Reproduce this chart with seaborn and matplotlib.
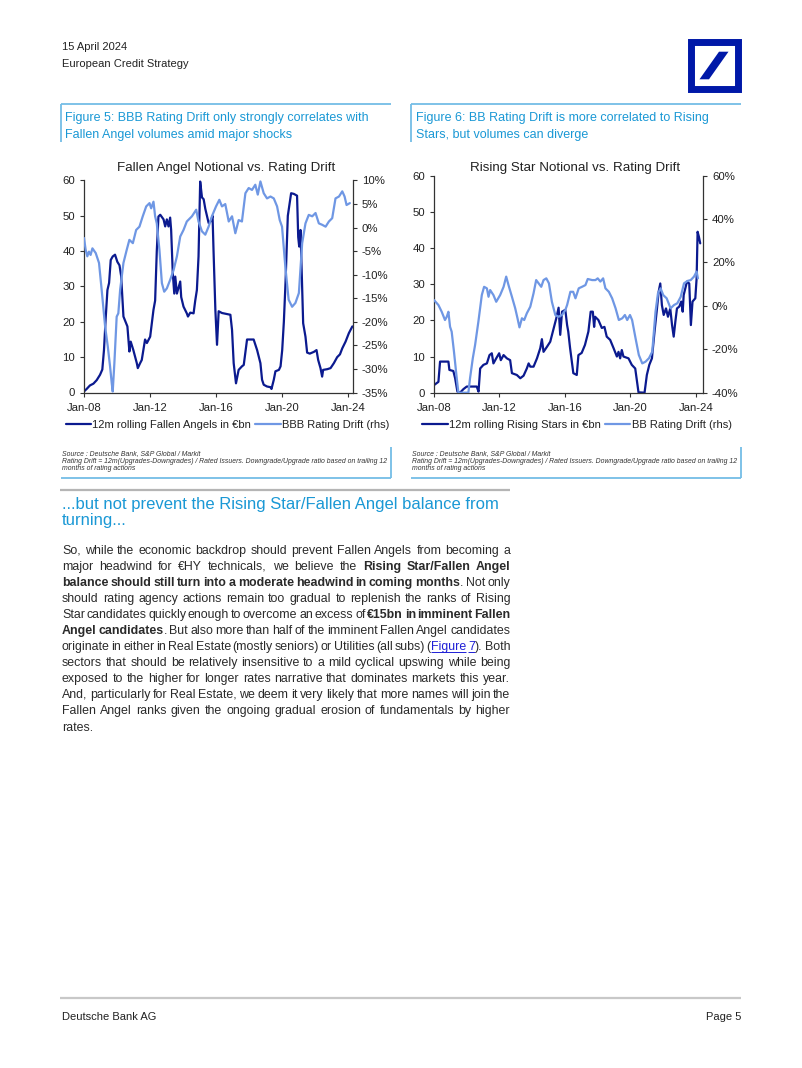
import math
import matplotlib
matplotlib.use("Agg")
import matplotlib.pyplot as plt
import seaborn as sns
from matplotlib.lines import Line2D
from matplotlib.patches import Rectangle, Polygon
from matplotlib.ticker import FuncFormatter, MultipleLocator
from matplotlib.font_manager import FontProperties, findfont, get_font
from matplotlib.backends.backend_agg import get_hinting_flag

# ---------------- data ----------------
xtick_years = [2008, 2012, 2016, 2020, 2024]
xtick_labels = ["Jan-08", "Jan-12", "Jan-16", "Jan-20", "Jan-24"]

fa_year = [2008.0, 2008.16, 2008.36, 2008.57, 2008.77, 2008.97, 2009.11, 2009.21, 2009.32, 2009.42,
           2009.52, 2009.62, 2009.74, 2009.88, 2010.02, 2010.15, 2010.25, 2010.39, 2010.63, 2010.75,
           2010.83, 2010.99, 2011.2, 2011.26, 2011.4, 2011.5, 2011.7, 2011.81, 2012.01, 2012.21,
           2012.31, 2012.41, 2012.51, 2012.62, 2012.82, 2012.92, 2013.02, 2013.12, 2013.22, 2013.28,
           2013.38, 2013.47, 2013.53, 2013.63, 2013.83, 2013.89, 2014.03, 2014.23, 2014.30, 2014.44,
           2014.64, 2014.74, 2014.84, 2014.94, 2015.04, 2015.15, 2015.25, 2015.35, 2015.45, 2015.55,
           2015.69, 2015.79, 2015.85, 2015.96, 2016.06, 2016.16, 2016.36, 2016.87, 2016.97, 2017.07,
           2017.21, 2017.37, 2017.57, 2017.68, 2017.88, 2018.08, 2018.28, 2018.49, 2018.69, 2018.79,
           2018.89, 2019.09, 2019.30, 2019.36, 2019.50, 2019.60, 2019.81, 2019.91, 2020.01, 2020.11,
           2020.21, 2020.35, 2020.55, 2020.72, 2020.91, 2020.98, 2021.04, 2021.12, 2021.28, 2021.42,
           2021.52, 2021.68, 2021.93, 2022.09, 2022.19, 2022.33, 2022.43, 2022.49, 2022.74, 2022.94,
           2023.14, 2023.34, 2023.51, 2023.65, 2023.85, 2024.05, 2024.26]
fa_bn = [0.3, 1.0, 2.0, 2.5, 3.5, 5.0, 6.5, 12.0, 21.5, 29.0,
         31.0, 37.5, 38.5, 39.0, 37.0, 36.0, 33.0, 21.5, 18.7, 11.6,
         14.4, 12.0, 8.3, 6.9, 8.3, 9.2, 15.0, 14.0, 15.8, 23.4,
         26.0, 40.0, 49.8, 50.3, 49.0, 47.0, 49.0, 47.0, 49.5, 46.0,
         33.7, 28.0, 32.8, 28.0, 31.4, 27.0, 24.3, 22.4, 21.5, 22.6,
         22.4, 26.0, 29.0, 38.5, 59.7, 55.2, 54.7, 52.0, 50.0, 48.0,
         48.5, 50.0, 40.0, 23.4, 13.5, 23.0, 22.5, 22.0, 17.7, 8.3,
         2.6, 6.4, 7.4, 7.8, 15.0, 15.0, 15.0, 12.0, 8.3, 3.6,
         2.2, 1.7, 1.5, 1.0, 3.6, 6.0, 6.4, 7.4, 12.0, 20.0,
         31.0, 50.0, 56.4, 56.2, 55.7, 44.0, 41.3, 46.0, 19.6, 15.8,
         11.3, 11.0, 11.5, 12.0, 9.2, 6.9, 4.5, 6.4, 6.6, 6.9,
         8.3, 10.0, 10.8, 12.5, 14.4, 16.8, 18.7]

bbb_year = [2008.0, 2008.10, 2008.20, 2008.30, 2008.40, 2008.51, 2008.71, 2008.91, 2009.07, 2009.28,
            2009.44, 2009.58, 2009.68, 2009.74, 2009.84, 2009.98, 2010.08, 2010.19, 2010.39, 2010.59,
            2010.75, 2010.96, 2011.16, 2011.36, 2011.56, 2011.77, 2011.97, 2012.07, 2012.21, 2012.31,
            2012.41, 2012.57, 2012.72, 2012.86, 2013.02, 2013.22, 2013.43, 2013.63, 2013.83, 2014.03,
            2014.23, 2014.54, 2014.80, 2014.94, 2015.15, 2015.35, 2015.55, 2015.75, 2016.0, 2016.20,
            2016.36, 2016.56, 2016.77, 2016.97, 2017.17, 2017.37, 2017.57, 2017.78, 2017.98, 2018.18,
            2018.38, 2018.53, 2018.69, 2018.89, 2019.09, 2019.30, 2019.50, 2019.70, 2019.86, 2020.0,
            2020.20, 2020.40, 2020.61, 2020.81, 2021.02, 2021.22, 2021.42, 2021.62, 2021.83, 2022.03,
            2022.23, 2022.43, 2022.64, 2022.84, 2023.04, 2023.24, 2023.45, 2023.65, 2023.79, 2023.91,
            2024.11]
bbb_drift = [-2.2, -4.7, -6.1, -5.1, -5.8, -4.4, -5.4, -7.5, -13.2, -21.0,
             -25.2, -29.5, -33.0, -34.8, -28.8, -18.9, -18.2, -13.2, -7.5, -4.7,
             -2.6, -3.3, -0.5, 0.2, 2.4, 4.5, 5.2, 4.1, 5.5, 2.4,
             0.9, -4.7, -11.8, -13.6, -12.9, -11.1, -9.0, -6.1, -1.9, -0.5,
             1.3, 2.4, 3.8, 1.3, -0.8, -1.5, 0.2, 2.4, 4.5, 5.9,
             4.5, 5.0, 1.3, 2.4, -1.2, 1.6, 1.3, 7.3, 8.4, 8.0,
             9.1, 7.0, 9.8, 7.3, 6.2, 6.6, 6.2, 4.5, 1.6, 0.2,
             -8.3, -15.3, -16.8, -16.0, -13.9, -3.3, 0.9, 2.7, 2.4, 3.1,
             0.9, 0.6, 0.2, 1.3, 2.0, 6.2, 6.6, 7.7, 6.6, 4.8,
             5.2]

rs_year = [2008.0, 2008.27, 2008.37, 2008.88, 2008.94, 2009.18, 2009.29, 2009.43, 2009.59, 2009.80,
           2010.0, 2010.61, 2010.72, 2010.82, 2011.02, 2011.23, 2011.39, 2011.53, 2011.63, 2011.80,
           2011.98, 2012.08, 2012.25, 2012.45, 2012.65, 2012.76, 2013.06, 2013.27, 2013.47, 2013.67,
           2013.78, 2013.88, 2014.08, 2014.29, 2014.49, 2014.59, 2014.69, 2014.90, 2015.10, 2015.31,
           2015.47, 2015.61, 2015.71, 2015.82, 2016.02, 2016.13, 2016.20, 2016.31, 2016.51, 2016.72,
           2016.82, 2017.02, 2017.22, 2017.43, 2017.57, 2017.70, 2017.78, 2017.84, 2018.04, 2018.25,
           2018.41, 2018.55, 2018.76, 2018.96, 2019.17, 2019.27, 2019.37, 2019.47, 2019.57, 2019.88,
           2020.08, 2020.29, 2020.43, 2020.49, 2020.86, 2021.0, 2021.15, 2021.31, 2021.47, 2021.62,
           2021.72, 2021.82, 2021.92, 2022.03, 2022.17, 2022.29, 2022.43, 2022.54, 2022.64, 2022.74,
           2022.84, 2022.98, 2023.10, 2023.19, 2023.25, 2023.45, 2023.59, 2023.69, 2023.79, 2023.96,
           2024.04, 2024.10, 2024.18, 2024.26]
rs_bn = [2.1, 3.0, 8.6, 8.6, 6.3, 6.0, 4.0, 0.3, 0.0, 1.0,
         1.7, 1.7, 0.3, 6.7, 7.7, 8.1, 10.4, 10.9, 8.1, 9.5,
         10.9, 9.0, 10.4, 9.5, 9.0, 5.4, 4.9, 4.0, 4.7, 6.7,
         8.1, 7.2, 7.2, 9.5, 12.3, 14.8, 11.3, 12.7, 14.1, 17.8,
         20.6, 23.5, 16.0, 22.4, 22.9, 18.7, 16.9, 12.4, 5.4, 4.9,
         10.4, 11.0, 13.2, 16.9, 22.4, 22.4, 18.2, 21.0, 20.1, 17.9,
         18.2, 15.5, 14.6, 12.4, 10.0, 11.3, 9.5, 11.8, 10.0, 9.5,
         7.7, 6.7, 2.1, 0.1, 0.0, 4.9, 7.7, 9.5, 16.9, 23.3,
         27.9, 30.2, 24.2, 21.5, 23.3, 21.0, 23.3, 18.7, 15.5, 19.6,
         23.3, 23.8, 25.2, 22.4, 27.0, 30.7, 30.2, 18.7, 25.2, 26.1,
         31.6, 44.5, 43.1, 41.3]

bb_year = [2008.0, 2008.27, 2008.47, 2008.67, 2008.78, 2008.88, 2008.98, 2009.08, 2009.22, 2009.39,
           2009.49, 2010.10, 2010.20, 2010.37, 2010.51, 2010.71, 2010.92, 2011.06, 2011.23, 2011.33,
           2011.43, 2011.63, 2011.80, 2012.04, 2012.25, 2012.41, 2012.55, 2012.76, 2012.96, 2013.10,
           2013.22, 2013.37, 2013.51, 2013.67, 2013.88, 2014.08, 2014.24, 2014.39, 2014.55, 2014.69,
           2014.86, 2015.02, 2015.20, 2015.41, 2015.61, 2015.82, 2016.02, 2016.13, 2016.33, 2016.50,
           2016.64, 2016.84, 2017.04, 2017.25, 2017.39, 2017.66, 2017.86, 2018.0, 2018.16, 2018.33,
           2018.47, 2018.68, 2018.88, 2019.09, 2019.29, 2019.50, 2019.66, 2019.80, 2019.97, 2020.10,
           2020.31, 2020.51, 2020.72, 2020.92, 2021.13, 2021.33, 2021.53, 2021.68, 2021.84, 2022.0,
           2022.21, 2022.45, 2022.66, 2022.86, 2023.07, 2023.27, 2023.48, 2023.68, 2023.88, 2024.04,
           2024.12]
bb_drift = [2.7, 0.4, -2.7, -6.5, -5.0, -2.7, -9.6, -11.9, -21.1, -33.4,
            -40.0, -40.0, -33.4, -24.1, -18.0, -7.3, 5.0, 8.8, 8.1, 4.2,
            7.3, 5.0, 1.9, 5.0, 8.8, 13.5, 9.6, 4.2, -1.1, -5.7,
            -9.9, -5.7, -6.5, -3.4, -0.4, 5.8, 11.9, 10.4, 8.8, 11.9,
            12.7, 10.4, 1.9, -4.2, -5.0, -4.2, -1.9, 0.4, 6.5, 6.5,
            3.5, 8.1, 8.8, 9.6, 12.4, 11.9, 11.9, 12.7, 11.2, 12.7,
            8.1, 6.5, 3.5, -1.1, -6.5, -5.7, -4.2, -6.5, -4.2, -6.5,
            -14.9, -22.6, -26.5, -25.7, -24.1, -21.1, -2.7, 5.8, 8.1, 5.0,
            3.5, -1.1, 0.4, 1.2, 4.2, 10.4, 11.5, 11.9, 13.5, 15.8,
            12.7]

# ---------------- styling ----------------
DARK = "#0b1a8f"
LIGHT = "#6f97e4"
CYAN = "#1a98d5"
BOXBLUE = "#74bde6"
TXT = "#222222"
BODY = "#2a2a2a"
LINK = "#1f1fd6"
DBBLUE = "#0018a8"
FAMILY = 'Liberation Sans'

sns.set_style("white")
plt.rcParams['font.family'] = [FAMILY, 'DejaVu Sans']

W, H = 802, 1068
DPI = 100
fig = plt.figure(figsize=(W / DPI, H / DPI), dpi=DPI)
page = fig.add_axes([0, 0, 1, 1])
page.set_xlim(0, W)
page.set_ylim(H, 0)
page.axis('off')


def hline(x0, x1, y, color, lw):
    page.plot([x0, x1], [y, y], color=color, lw=lw, solid_capstyle='butt')


def vline(x, y0, y1, color, lw):
    page.plot([x, x], [y0, y1], color=color, lw=lw, solid_capstyle='butt')


# header
page.text(62, 50, "15 April 2024", fontsize=8, color=TXT, va='baseline')
page.text(62, 67, "European Credit Strategy", fontsize=8, color=TXT, va='baseline')

# logo
page.add_patch(Rectangle((691.2, 41.8), 46.3, 47.0, fill=False, edgecolor=DBBLUE, lw=5.0))
page.add_patch(Polygon([(699.5, 79.3), (709.0, 79.3), (728.5, 51.7), (719.0, 51.7)],
                       closed=True, facecolor=DBBLUE, edgecolor='none'))

# figure captions and source boxes
for x0, x1, l1, l2 in [(60.5, 391, "Figure 5: BBB Rating Drift only strongly correlates with",
                        "Fallen Angel volumes amid major shocks"),
                       (411, 741, "Figure 6: BB Rating Drift is more correlated to Rising",
                        "Stars, but volumes can diverge")]:
    hline(x0, x1, 104.3, BOXBLUE, 1.3)
    vline(x0, 104.3, 142, BOXBLUE, 1.3)
    page.text(x0 + 4.5, 121, l1, fontsize=9, color=CYAN, va='baseline')
    page.text(x0 + 4.5, 138, l2, fontsize=9, color=CYAN, va='baseline')
    vline(x1, 447, 478, BOXBLUE, 1.3)
    hline(x0, x1, 478, BOXBLUE, 1.3)
    src = ["Source : Deutsche Bank, S&P Global / Markit",
           "Rating Drift = 12m(Upgrades-Downgrades) / Rated Issuers. Downgrade/Upgrade ratio based on trailing 12",
           "months of rating actions"]
    for i, s in enumerate(src):
        page.text(x0 + 1.5, 455.2 + i * 7.6, s, fontsize=4.95, style='italic', color="#333333", va='baseline')


def pct_fmt(v, pos):
    return f"{v:.0f}%".replace("\u2212", "-")


def chart(l, t, r, b, xmax, title, title_x, xs1, ys1, xs2, ys2, ylim2, step2, lab1, lab2, leg_cx):
    ax = fig.add_axes([l / W, 1 - b / H, (r - l) / W, (b - t) / H])
    sns.lineplot(x=xs1, y=ys1, ax=ax, color=DARK, linewidth=1.6, estimator=None, sort=False, legend=False)
    ax.set_xlim(2008, xmax)
    ax.set_ylim(0, 60)
    ax.yaxis.set_major_locator(MultipleLocator(10))
    ax.set_xticks(xtick_years)
    ax.set_xticklabels(xtick_labels)
    ax2 = ax.twinx()
    sns.lineplot(x=xs2, y=ys2, ax=ax2, color=LIGHT, linewidth=1.6, estimator=None, sort=False, legend=False)
    ax2.set_ylim(*ylim2)
    ax2.yaxis.set_major_locator(MultipleLocator(step2))
    ax2.yaxis.set_major_formatter(FuncFormatter(pct_fmt))
    for a in (ax, ax2):
        a.set_facecolor('none')
        for s in a.spines.values():
            s.set_visible(False)
        a.set_xlabel("")
        a.set_ylabel("")
    for s in ("left", "bottom"):
        ax.spines[s].set_visible(True)
        ax.spines[s].set_color("#333333")
        ax.spines[s].set_linewidth(0.9)
    ax2.spines["right"].set_visible(True)
    ax2.spines["right"].set_color("#333333")
    ax2.spines["right"].set_linewidth(0.9)
    ax.tick_params(axis='x', bottom=True, direction='out', length=3, width=0.8, color="#333333",
                   labelsize=8.2, labelcolor=TXT, pad=4.5)
    ax.tick_params(axis='y', left=True, direction='out', length=3, width=0.8, color="#333333",
                   labelsize=8.2, labelcolor=TXT, pad=3.4)
    ax2.tick_params(axis='y', right=True, left=False, direction='out', length=3, width=0.8, color="#333333",
                    labelsize=8.2, labelcolor=TXT, pad=3.4)
    page.text(title_x, 171, title, fontsize=9.6, color=TXT, ha='center', va='baseline')
    handles = [Line2D([], [], color=DARK, lw=1.6), Line2D([], [], color=LIGHT, lw=1.6)]
    ax.legend(handles, [lab1, lab2], loc='center', bbox_to_anchor=(leg_cx / W, 1 - 425 / H),
              bbox_transform=fig.transFigure, ncol=2, frameon=False, fontsize=8.0,
              handlelength=2.3, handletextpad=0.12, columnspacing=0.35, borderpad=0, borderaxespad=0,
              labelcolor=TXT)
    return ax, ax2


chart(84, 180.5, 353, 392.5, 2024.30, "Fallen Angel Notional vs. Rating Drift", 226,
      fa_year, fa_bn, bbb_year, bbb_drift, (-35, 10), 5,
      "12m rolling Fallen Angels in \u20acbn", "BBB Rating Drift (rhs)", 227.5)
chart(434, 175.7, 703, 392.7, 2024.43, "Rising Star Notional vs. Rating Drift", 575.5,
      rs_year, rs_bn, bb_year, bb_drift, (-40, 60), 20,
      "12m rolling Rising Stars in \u20acbn", "BB Rating Drift (rhs)", 577)

# section separator and heading
hline(60, 510, 490, "#b5b5b5", 1.6)
page.text(62, 509, "...but not prevent the Rising Star/Fallen Angel balance from", fontsize=12,
          color=CYAN, va='baseline')
page.text(62, 525, "turning...", fontsize=12, color=CYAN, va='baseline')

# justified body text
body_lines = [
    "So, while the economic backdrop should prevent Fallen Angels from becoming a",
    "major headwind for \u20acHY technicals, we believe the **Rising Star/Fallen Angel**",
    "**balance should still turn into a moderate headwind in coming months**. Not only",
    "should rating agency actions remain too gradual to replenish the ranks of Rising",
    "Star candidates quickly enough to overcome an excess of **\u20ac15bn in imminent Fallen**",
    "**Angel candidates**. But also more than half of the imminent Fallen Angel candidates",
    "originate in either in Real Estate (mostly seniors) or Utilities (all subs) ([[Figure 7]]). Both",
    "sectors that should be relatively insensitive to a mild cyclical upswing while being",
    "exposed to the higher for longer rates narrative that dominates markets this year.",
    "And, particularly for Real Estate, we deem it very likely that more names will join the",
    "Fallen Angel ranks given the ongoing gradual erosion of fundamentals by higher",
    "rates.",
]


def parse(line):
    chars = []
    bold = link = False
    i = 0
    while i < len(line):
        if line.startswith('**', i):
            bold = not bold
            i += 2
            continue
        if line.startswith('[[', i):
            link = True
            i += 2
            continue
        if line.startswith(']]', i):
            link = False
            i += 2
            continue
        chars.append((line[i], 'b' if bold else ('l' if link else 'n')))
        i += 1
    words, cur = [], []
    for ch, st in chars:
        if ch == ' ':
            if cur:
                words.append(cur)
                cur = []
        else:
            cur.append((ch, st))
    if cur:
        words.append(cur)
    out = []
    for w in words:
        runs = []
        for ch, st in w:
            if runs and runs[-1][1] == st:
                runs[-1][0] += ch
            else:
                runs.append([ch, st])
        out.append(runs)
    return out


BFS = 8.9


def _font(bold):
    prop = FontProperties(family=FAMILY, weight='bold' if bold else 'normal', size=BFS)
    font = get_font(findfont(prop))
    font.clear()
    font.set_size(BFS, DPI)
    return font


def advance(s, bold):
    font = _font(bold)
    w = 0.0
    for ch in s:
        g = font.load_char(ord(ch))
        w += g.linearHoriAdvance / 65536.0
    return w


def descent(s, bold):
    font = _font(bold)
    font.set_text(s, 0, flags=get_hinting_flag())
    return font.get_descent() / 64.0


X0, X1 = 62, 510
for k, line in enumerate(body_lines):
    y = float(round(553.5 + k * 16.1))
    words = parse(line)
    items, total = [], 0.0
    for runs in words:
        objs = []
        for s, st in runs:
            w = advance(s, st == 'b')
            d = descent(s, st == 'b')
            objs.append((s, st, w, d - math.floor(d)))
            total += w
        items.append(objs)
    justify = k < len(body_lines) - 1
    gap = (X1 - X0 - total) / (len(words) - 1) if (justify and len(words) > 1) else advance(" ", False)
    gap = max(gap, 1.8)
    x = X0
    for objs in items:
        for s, st, w, frac in objs:
            page.text(x, y - frac + 0.02, s, fontsize=BFS, fontweight='bold' if st == 'b' else 'normal',
                      color=LINK if st == 'l' else BODY, va='baseline', ha='left')
            if st == 'l':
                hline(x, x + w, y + 2.0, LINK, 0.7)
            x += w
        x += gap

# footer
hline(60, 741, 998.3, "#c8c8c8", 1.6)
page.text(62, 1020, "Deutsche Bank AG", fontsize=8, color=TXT, va='baseline')
page.text(741, 1020, "Page 5", fontsize=8, color=TXT, va='baseline', ha='right')

fig.savefig("out.png", dpi=DPI)
